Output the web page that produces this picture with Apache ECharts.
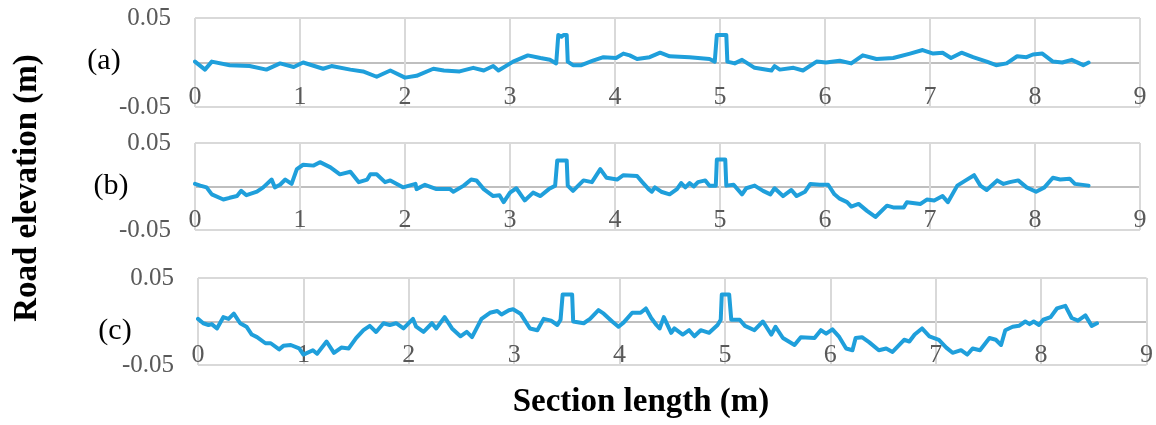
<!DOCTYPE html>
<html>
<head>
<meta charset="utf-8">
<script src="https://cdn.jsdelivr.net/npm/echarts@6/dist/echarts.min.js"></script>
<style>
html,body{margin:0;padding:0;background:#fff;}
#chart{width:1156px;height:425px;}
</style>
</head>
<body>
<div id="chart"></div>
<script>
// Panel (a)
var xA = [0,0.095,0.16,0.33,0.52,0.68,0.81,0.94,1.03,1.22,1.30,1.48,1.60,1.73,1.86,2.0,2.11,2.27,2.37,2.52,2.65,2.75,2.84,2.89,3.03,3.17,3.29,3.38,3.44,3.46,3.49,3.51,3.54,3.55,3.60,3.68,3.79,3.89,4.01,4.08,4.14,4.21,4.33,4.43,4.52,4.71,4.90,4.95,4.97,5.06,5.07,5.14,5.21,5.33,5.49,5.52,5.57,5.70,5.79,5.92,6.01,6.14,6.25,6.36,6.49,6.65,6.81,6.93,7.03,7.12,7.20,7.30,7.41,7.54,7.63,7.73,7.83,7.92,7.98,8.07,8.17,8.26,8.35,8.46,8.51];
var yA = [0.001,-0.008,0.001,-0.003,-0.004,-0.008,-0.001,-0.005,0,-0.007,-0.004,-0.008,-0.010,-0.016,-0.009,-0.017,-0.015,-0.007,-0.009,-0.010,-0.006,-0.009,-0.004,-0.009,0.001,0.008,0.005,0.003,-0.001,0.031,0.029,0.031,0.031,0.001,-0.003,-0.003,0.002,0.006,0.005,0.010,0.008,0.004,0.006,0.011,0.007,0.006,0.004,0.001,0.031,0.031,0.001,-0.001,0.003,-0.006,-0.009,-0.004,-0.008,-0.006,-0.009,0.001,0,0.002,-0.001,0.008,0.004,0.005,0.010,0.014,0.010,0.011,0.005,0.011,0.006,0.001,-0.003,-0.001,0.007,0.006,0.009,0.010,0.001,0,0.003,-0.003,0];
// Panel (b)
var xB = [0,0.05,0.11,0.16,0.27,0.33,0.40,0.44,0.49,0.59,0.65,0.73,0.76,0.81,0.86,0.92,0.97,1.03,1.13,1.19,1.29,1.38,1.48,1.56,1.64,1.67,1.73,1.81,1.86,1.98,2.10,2.11,2.19,2.30,2.43,2.46,2.56,2.63,2.68,2.75,2.84,2.90,2.94,3.00,3.06,3.14,3.22,3.29,3.37,3.43,3.45,3.54,3.55,3.60,3.70,3.78,3.86,3.92,4.02,4.08,4.21,4.26,4.32,4.35,4.38,4.44,4.52,4.59,4.63,4.67,4.71,4.75,4.79,4.86,4.90,4.96,4.97,5.05,5.06,5.13,5.21,5.25,5.33,5.41,5.48,5.52,5.60,5.68,5.73,5.81,5.86,5.95,6.03,6.09,6.14,6.21,6.25,6.32,6.40,6.48,6.59,6.65,6.75,6.78,6.91,6.97,7.04,7.12,7.17,7.26,7.34,7.42,7.48,7.54,7.64,7.70,7.76,7.84,7.92,8.01,8.09,8.17,8.24,8.33,8.38,8.51];
var yB = [0.003,0.001,-0.001,-0.009,-0.015,-0.013,-0.011,-0.005,-0.010,-0.006,-0.001,0.008,-0.001,0.002,0.008,0.003,0.020,0.025,0.024,0.028,0.022,0.014,0.017,0.005,0.008,0.014,0.014,0.005,0.007,-0.001,0.003,-0.003,0.002,-0.003,-0.003,-0.006,0.001,0.008,0.007,-0.003,-0.011,-0.010,-0.018,-0.007,-0.002,-0.016,-0.007,-0.011,-0.003,0.001,0.030,0.030,0.001,-0.005,0.007,0.005,0.020,0.010,0.008,0.013,0.012,0.005,-0.003,-0.006,-0.001,-0.006,-0.009,-0.003,0.004,-0.001,0.004,0,0.005,0.007,0.001,0.001,0.031,0.031,0.001,0.002,-0.009,-0.002,0.001,-0.005,-0.009,-0.002,-0.011,-0.004,-0.011,-0.006,0.003,0.002,0.002,-0.009,-0.014,-0.018,-0.023,-0.020,-0.028,-0.035,-0.022,-0.024,-0.024,-0.018,-0.020,-0.015,-0.016,-0.011,-0.018,0.001,0.007,0.013,0.001,-0.004,0.007,0.003,0.005,0.007,-0.001,-0.006,-0.001,0.010,0.008,0.009,0.003,0.001];
// Panel (c)
var xC = [0,0.05,0.10,0.13,0.18,0.24,0.29,0.34,0.40,0.46,0.51,0.56,0.64,0.69,0.77,0.81,0.88,0.96,1.00,1.09,1.13,1.22,1.29,1.36,1.43,1.50,1.57,1.63,1.69,1.76,1.82,1.88,1.95,2.04,2.07,2.14,2.22,2.26,2.34,2.41,2.49,2.55,2.60,2.69,2.77,2.84,2.88,2.95,2.99,3.06,3.15,3.22,3.28,3.35,3.41,3.44,3.46,3.55,3.56,3.66,3.72,3.80,3.85,3.93,3.99,4.04,4.12,4.20,4.25,4.30,4.35,4.38,4.42,4.49,4.52,4.60,4.66,4.71,4.77,4.85,4.93,4.96,4.97,5.04,5.06,5.14,5.19,5.28,5.36,5.44,5.48,5.55,5.66,5.72,5.85,5.91,5.96,6.02,6.08,6.15,6.21,6.24,6.30,6.37,6.46,6.53,6.59,6.70,6.75,6.80,6.87,6.94,7.03,7.10,7.16,7.24,7.30,7.35,7.42,7.51,7.57,7.62,7.66,7.73,7.79,7.85,7.89,7.93,7.98,8.02,8.09,8.15,8.23,8.29,8.35,8.42,8.48,8.53];
var yC = [0.003,-0.002,-0.004,-0.003,-0.008,0.005,0.003,0.009,-0.002,-0.006,-0.015,-0.018,-0.025,-0.025,-0.032,-0.028,-0.027,-0.031,-0.038,-0.033,-0.037,-0.023,-0.036,-0.030,-0.031,-0.019,-0.010,-0.005,-0.012,-0.002,-0.004,-0.002,-0.008,0.003,-0.006,-0.012,-0.002,-0.008,0.005,-0.008,-0.017,-0.012,-0.018,0.003,0.010,0.012,0.008,0.013,0.014,0.009,-0.008,-0.010,0.003,0.001,-0.004,0.002,0.031,0.031,0,-0.002,0.003,0.013,0.009,0,-0.006,-0.001,0.010,0.010,0.015,0.004,-0.004,-0.008,0.005,-0.013,-0.008,-0.015,-0.010,-0.017,-0.010,-0.013,-0.004,0.002,0.031,0.031,0.002,0.002,-0.005,-0.010,0,-0.015,-0.006,-0.019,-0.027,-0.018,-0.019,-0.010,-0.014,-0.009,-0.017,-0.031,-0.033,-0.019,-0.018,-0.024,-0.033,-0.031,-0.035,-0.021,-0.023,-0.015,-0.008,-0.017,-0.021,-0.030,-0.036,-0.033,-0.038,-0.031,-0.033,-0.019,-0.021,-0.027,-0.010,-0.006,-0.005,0,-0.003,0,-0.004,0.002,0.005,0.015,0.018,0.004,0.001,0.007,-0.005,-0.002];

var panelLabels = ['(a)','(b)','(c)'];
var xTitle = 'Section length (m)';
var yTitle = 'Road elevation (m)';

function pairs(xs, ys){ return xs.map(function(x,i){ return [x, ys[i]]; }); }

var serif = "'Liberation Serif', 'Times New Roman', serif";
var grids = [
  {left:195, right:16, top:18, height:89},
  {left:195, right:16, top:143, height:87},
  {left:198, right:8, top:278, height:87}
];
var allX = [xA, xB, xC], allY = [yA, yB, yC];

var xAxes = [], yAxes = [], series = [];
for (var i = 0; i < 3; i++) {
  xAxes.push({
    type:'value', gridIndex:i, min:0, max:9, interval:1, position:'bottom',
    axisLine:{show:false, onZero:false},
    axisTick:{show:false},
    splitLine:{show:true, lineStyle:{color:'#d9d9d9', width:2}},
    axisLabel:{inside:true, color:'#595959', fontSize:26, fontFamily:serif, margin:-3}
  });
  yAxes.push({
    type:'value', gridIndex:i, min:-0.05, max:0.05, interval:0.05,
    axisLine:{show:false}, axisTick:{show:false},
    splitLine:{show:true, lineStyle:{color:['#d9d9d9','#bfbfbf','#d9d9d9'], width:2}},
    axisLabel:{color:'#595959', fontSize:25, fontFamily:serif, margin:24,
      formatter:function(v){ return Math.abs(v) < 1e-9 ? '' : v.toFixed(2); }}
  });
  series.push({
    type:'line', xAxisIndex:i, yAxisIndex:i, data:pairs(allX[i], allY[i]),
    showSymbol:false, symbol:'none', animation:false,
    lineStyle:{color:'#1f9fdb', width:4, join:'round', cap:'round'}
  });
}

var labelPos = [[104,61],[111,186],[115,331]];
var graphics = panelLabels.map(function(t, i){
  return {type:'text', x:labelPos[i][0], y:labelPos[i][1],
    style:{text:t, font:'30px ' + serif, fill:'#000', align:'center', verticalAlign:'middle'}};
});
graphics.push({type:'text', x:641, y:402,
  style:{text:xTitle, font:'bold 33px ' + serif, fill:'#000', align:'center', verticalAlign:'middle'}});
graphics.push({type:'text', x:27, y:188, rotation:Math.PI/2,
  style:{text:yTitle, font:'bold 33px ' + serif, fill:'#000', align:'center', verticalAlign:'middle'}});

var chart = echarts.init(document.getElementById('chart'));
chart.setOption({
  animation:false,
  backgroundColor:'#fff',
  grid:grids,
  xAxis:xAxes,
  yAxis:yAxes,
  series:series,
  graphic:graphics
});
</script>
</body>
</html>
